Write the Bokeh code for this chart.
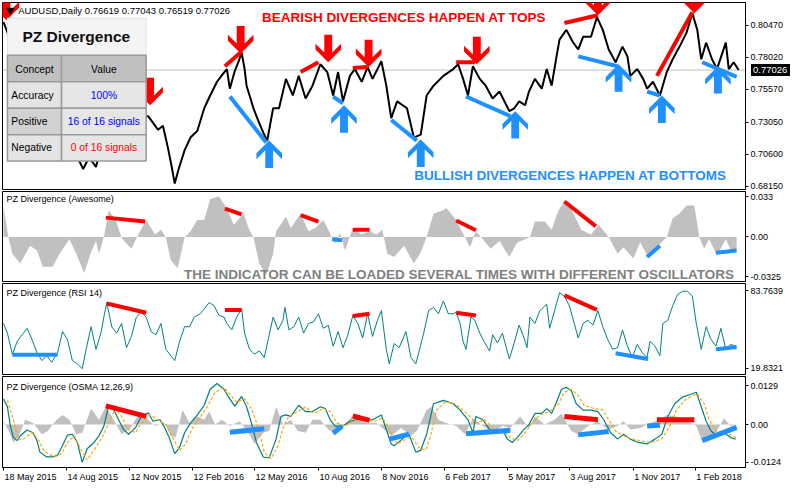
from bokeh.plotting import figure
from bokeh.layouts import column
from bokeh.models import Range1d, LinearAxis, FixedTicker, Span, Div
from bokeh.core.properties import value
from bokeh.embed import file_html
from bokeh.resources import INLINE

# ---------------- data ----------------
date_labels = ["18 May 2015", "14 Aug 2015", "12 Nov 2015", "12 Feb 2016", "12 May 2016",
               "10 Aug 2016", "8 Nov 2016", "6 Feb 2017", "5 May 2017", "3 Aug 2017",
               "1 Nov 2017", "1 Feb 2018"]
date_bars = [3, 67, 131, 195, 258, 323, 387, 451, 515, 578, 643, 706]

price_bars = [3, 8, 15, 22, 30, 38, 46, 54, 62, 70, 78, 84, 90, 97, 104, 110, 118, 126, 132, 140,
              146, 150, 155, 160, 165, 170, 174, 177, 181, 187, 193, 200, 207, 213, 220, 226, 230, 233, 238, 242,
              245, 248, 250, 254, 257, 262, 267, 271, 277, 283, 290, 297, 303, 310, 317, 325, 332, 338, 343, 348,
              355, 360, 367, 373, 378, 387, 392, 397, 403, 413, 420, 427, 433, 440, 450, 460, 465, 470, 475, 480,
              487, 493, 500, 507, 517, 522, 527, 533, 537, 543, 550, 555, 560, 565, 568, 575, 582, 587, 592, 600,
              606, 612, 618, 625, 632, 637, 640, 647, 653, 657, 663, 670, 677, 683, 690, 697, 703, 708, 712, 717,
              723, 728, 737, 740, 745, 750]
price_close = [0.8069, 0.7972, 0.7822, 0.7710, 0.7598, 0.7485, 0.7373, 0.7298, 0.7223, 0.7111,
               0.7036, 0.6946, 0.7036, 0.6961, 0.7186, 0.7350, 0.7261, 0.7111, 0.7036, 0.7261,
               0.7350, 0.7350, 0.7298, 0.7246, 0.7276, 0.7111, 0.6961, 0.6834, 0.6946, 0.7088,
               0.7186, 0.7238, 0.7410, 0.7508, 0.7613, 0.7673, 0.7710, 0.7560, 0.7695, 0.7770,
               0.7837, 0.7710, 0.7583, 0.7485, 0.7410, 0.7313, 0.7223, 0.7163, 0.7410, 0.7410,
               0.7635, 0.7508, 0.7658, 0.7485, 0.7583, 0.7747, 0.7687, 0.7508, 0.7687, 0.7463,
               0.7658, 0.7710, 0.7613, 0.7725, 0.7635, 0.7770, 0.7583, 0.7335, 0.7463, 0.7410,
               0.7186, 0.7208, 0.7508, 0.7583, 0.7658, 0.7710, 0.7747, 0.7635, 0.7508, 0.7732,
               0.7635, 0.7583, 0.7485, 0.7538, 0.7388, 0.7410, 0.7463, 0.7433, 0.7538, 0.7635,
               0.7560, 0.7710, 0.7583, 0.7807, 0.7935, 0.8010, 0.7912, 0.7860, 0.7957, 0.7957,
               0.8107, 0.8010, 0.7860, 0.7762, 0.7882, 0.7807, 0.7658, 0.7710, 0.7635, 0.7560,
               0.7613, 0.7508, 0.7687, 0.7785, 0.7882, 0.7987, 0.8137, 0.8010, 0.7785, 0.7912,
               0.7785, 0.7710, 0.7912, 0.7710, 0.7762, 0.7703]
last_price = 0.77026
price_ticks = [0.8047, 0.7802, 0.7557, 0.7305, 0.7060, 0.6815]
price_tick_labels = ["0.80470", "0.78020", "0.75570", "0.73050", "0.70600", "0.68150"]

aw_bars = [3, 8, 12, 20, 30, 37, 43, 53, 60, 70, 77, 85, 92, 97, 100, 105, 110, 117, 123, 127,
           133, 140, 148, 157, 163, 168, 173, 180, 187, 193, 200, 207, 213, 222, 230, 237, 247, 252, 257, 263,
           270, 277, 280, 290, 295, 305, 313, 320, 328, 337, 340, 345, 350, 358, 367, 375, 382, 388, 393, 400,
           410, 420, 427, 433, 440, 450, 453, 463, 472, 477, 483, 490, 498, 507, 517, 525, 533, 538, 543, 553,
           560, 567, 573, 580, 590, 600, 608, 618, 627, 633, 643, 650, 658, 667, 677, 683, 690, 697, 705, 710,
           715, 720, 728, 737, 743, 748]
aw_vals = [0.0245, 0, -0.0137, -0.0216, -0.0071, -0.011, -0.0242, -0.0242, -0.0137, -0.0018,
           -0.0137, -0.0295, -0.0124, -0.0032, -0.0137, 0, 0.0218, 0.0139, -0.0005, -0.0045,
           -0.0097, 0.002, 0.0139, 0.002, 0.006, -0.0005, -0.019, -0.0255, -0.0005, 0.0047,
           0.0139, 0.0139, 0.031, 0.0331, 0.0231, 0.01, 0.0192, 0.0074, -0.0005, -0.0216,
           -0.0308, -0.0137, 0.0047, 0.0166, 0.0074, 0.0192, 0.0047, 0.0074, 0.0139, -0.0005,
           -0.0053, 0.0034, -0.011, 0.0074, 0.002, 0.0047, 0.002, 0.006, -0.0137, -0.0163,
           -0.0071, -0.0216, -0.0124, 0, 0.0192, 0.0218, 0.0237, 0.0139, -0.0005, -0.0084,
           0.0047, -0.0018, -0.0097, -0.0032, -0.0163, -0.0045, -0.0018, 0, 0.0126, 0.0126,
           0.006, 0.0218, 0.029, 0.0231, 0.006, 0.002, 0.01, 0, -0.0137, -0.0084,
           -0.0176, -0.0045, -0.0163, -0.0084, 0, 0.0153, 0.0192, 0.0258, 0.0258, 0,
           -0.0097, -0.0018, -0.015, -0.0018, -0.0124, -0.0097]
aw_ticks = [0.033, 0.0, -0.0325]
aw_tick_labels = ["0.033", "0.00", "-0.0325"]

rsi_bars = [3, 7, 12, 17, 22, 27, 32, 37, 42, 47, 52, 58, 63, 68, 73, 78, 83, 87, 92, 97,
            102, 105, 108, 113, 118, 123, 128, 133, 138, 143, 148, 153, 158, 163, 168, 173, 177, 182, 187, 192,
            197, 203, 207, 212, 217, 222, 227, 230, 235, 240, 245, 248, 253, 258, 263, 268, 272, 277, 282, 287,
            289, 293, 298, 303, 308, 313, 318, 323, 328, 333, 338, 343, 348, 353, 358, 363, 368, 373, 378, 383,
            387, 392, 395, 400, 405, 412, 417, 422, 425, 430, 435, 440, 445, 450, 455, 460, 463, 467, 470, 473,
            478, 482, 487, 492, 497, 500, 505, 510, 517, 522, 527, 532, 535, 538, 543, 548, 555, 558, 563, 568,
            573, 578, 583, 587, 592, 597, 602, 607, 612, 617, 622, 627, 632, 637, 642, 647, 652, 657, 660, 665,
            670, 673, 678, 683, 688, 693, 698, 703, 707, 712, 717, 722, 727, 732, 737, 742, 747]
rsi_vals = [56.6, 48.6, 31.3, 41.9, 47.3, 52.6, 43.3, 32.6, 26.0, 30.0,
            24.6, 32.6, 49.9, 43.3, 26.0, 23.3, 19.3, 35.3, 53.9, 35.3,
            48.6, 61.9, 73.9, 53.9, 48.6, 56.6, 36.6, 45.9, 61.9, 65.9,
            61.9, 49.9, 47.3, 56.6, 35.3, 30.0, 26.0, 41.9, 53.9, 53.9,
            61.9, 64.6, 68.6, 73.9, 71.2, 63.2, 61.9, 56.6, 51.3, 61.9,
            68.6, 48.6, 35.3, 31.3, 33.9, 28.6, 43.3, 61.9, 51.3, 59.2,
            69.9, 51.3, 53.9, 61.9, 48.6, 56.6, 57.9, 64.6, 52.6, 55.2,
            37.9, 49.9, 36.6, 47.3, 63.2, 56.6, 44.6, 64.6, 45.9, 59.2,
            67.2, 35.3, 23.3, 40.0, 36.6, 49.9, 28.6, 23.3, 32.6, 48.6,
            67.2, 69.9, 64.6, 75.2, 64.6, 64.6, 65.9, 56.6, 41.9, 35.3,
            61.9, 59.2, 48.6, 40.6, 33.9, 47.3, 40.6, 48.6, 27.3, 40.6,
            55.2, 44.6, 36.6, 61.9, 56.6, 67.2, 72.6, 52.6, 67.2, 81.9,
            79.2, 71.2, 56.6, 44.6, 56.6, 59.2, 55.2, 67.2, 53.9, 43.3,
            35.3, 36.6, 51.3, 37.9, 28.6, 39.3, 32.6, 28.6, 41.9, 37.9,
            30.0, 56.6, 59.2, 71.2, 80.6, 83.2, 83.2, 79.2, 56.6, 35.3,
            53.9, 43.3, 37.9, 52.6, 35.3, 39.3, 37.9]
rsi_ticks = [83.7639, 19.8321]
rsi_tick_labels = ["83.7639", "19.8321"]

osma_main_bars = [3, 7, 10, 13, 17, 20, 27, 33, 37, 40, 47, 53, 58, 63, 68, 73, 78, 83, 88, 95,
                  100, 105, 110, 115, 120, 125, 130, 137, 143, 150, 155, 162, 167, 172, 177, 182, 187, 193, 200, 207,
                  213, 220, 227, 233, 238, 245, 250, 255, 260, 267, 273, 280, 285, 290, 295, 303, 310, 317, 325, 330,
                  335, 340, 348, 355, 362, 370, 378, 387, 392, 397, 400, 410, 415, 422, 427, 433, 440, 450, 460, 467,
                  475, 480, 483, 490, 497, 503, 510, 515, 520, 525, 532, 537, 543, 550, 555, 560, 565, 570, 575, 580,
                  585, 592, 600, 607, 613, 620, 627, 633, 640, 648, 657, 665, 672, 678, 685, 693, 702, 707, 712, 717,
                  722, 728, 735, 742, 747]
osma_main = [0.0085, 0.0059, -0.0005, -0.0043, -0.0053, -0.0037, -0.0018, -0.0027, -0.0053, -0.0091,
             -0.0107, -0.0107, -0.0101, -0.0069, -0.0035, -0.0032, -0.0059, -0.0125, -0.008, -0.0059,
             -0.0037, -0.0005, 0.0064, 0.005, 0.0016, -0.0016, -0.0032, -0.0011, 0.0027, 0.0039,
             0.0011, 0.0016, -0.0011, -0.0048, -0.0096, -0.0075, -0.0027, 0.0005, 0.0032, 0.0064,
             0.0117, 0.0136, 0.0117, 0.0085, 0.0061, 0.0093, 0.0059, 0.0005, -0.0059, -0.0107,
             -0.011, -0.0048, 0.0027, 0.0032, 0.0027, 0.0064, 0.0043, 0.0043, 0.0059, 0.0053,
             0.0016, -0.0005, -0.0005, 0.0011, 0.0016, 0.0016, 0.0016, 0.0032, -0.0016, -0.0064,
             -0.007, -0.0043, -0.0032, -0.0091, -0.0085, -0.0032, 0.0069, 0.008, 0.0069, 0.0048,
             0.0016, -0.0027, 0.0027, 0.0016, -0.0016, -0.0027, -0.0016, -0.0048, -0.0059, -0.0043,
             -0.0016, 0.0, 0.0037, 0.0037, 0.0053, 0.0037, 0.0075, 0.0117, 0.0123, 0.0112,
             0.0069, 0.0048, 0.0048, 0.0043, 0.0016, -0.0027, -0.0048, -0.0032, -0.0048, -0.0059,
             -0.0064, -0.0048, -0.0032, 0.0027, 0.0069, 0.0091, 0.0101, 0.0107, 0.0059, 0.0011,
             -0.0021, -0.0037, -0.0027, -0.0043, -0.0048]
osma_signal_bars = [7, 13, 18, 23, 32, 38, 45, 55, 62, 68, 75, 82, 88, 97, 103, 110, 117, 123, 130, 137,
                    143, 152, 160, 168, 175, 182, 188, 195, 202, 210, 218, 227, 233, 240, 248, 255, 262, 268, 275, 282,
                    287, 293, 302, 310, 318, 328, 335, 342, 350, 358, 368, 380, 388, 395, 400, 403, 412, 418, 425, 432,
                    437, 443, 452, 462, 468, 477, 483, 492, 500, 510, 518, 525, 532, 540, 548, 558, 567, 573, 580, 587,
                    593, 603, 612, 618, 625, 633, 642, 650, 660, 667, 673, 680, 687, 695, 703, 708, 715, 720, 727, 733,
                    740, 748]
osma_signal = [0.008, 0.0016, -0.0048, -0.0048, -0.0027, -0.0048, -0.0091, -0.0107, -0.0096, -0.0059,
               -0.0037, -0.0085, -0.0117, -0.0075, -0.0043, 0.0005, 0.0053, 0.0027, -0.0016, -0.0027,
               0.0005, 0.0032, 0.0016, 0.0, -0.0043, -0.0085, -0.0064, -0.0011, 0.0021, 0.0059,
               0.0107, 0.0123, 0.0101, 0.0075, 0.0085, 0.0053, -0.0011, -0.0091, -0.0112, -0.0069,
               -0.0011, 0.0027, 0.0043, 0.0059, 0.0037, 0.0053, 0.0043, 0.0005, -0.0005, 0.0011,
               0.0018, 0.0011, 0.0021, -0.0011, -0.0048, -0.0064, -0.0048, -0.0043, -0.0075, -0.0085,
               -0.0037, 0.0048, 0.0075, 0.0069, 0.0053, 0.0027, 0.0005, 0.0016, -0.0011, -0.0021,
               -0.0043, -0.0053, -0.0032, 0.0005, 0.0032, 0.0043, 0.0069, 0.0107, 0.0117, 0.0096,
               0.0064, 0.0053, 0.0048, 0.0016, -0.0021, -0.0037, -0.0048, -0.0053, -0.0059, -0.0053,
               -0.0043, -0.0005, 0.0048, 0.008, 0.0096, 0.0101, 0.0069, 0.0016, -0.0021, -0.0027,
               -0.0032, -0.0043]
osma_hist_bars = [3, 10, 13, 18, 25, 33, 42, 48, 57, 63, 70, 77, 83, 92, 100, 107, 115, 123, 132, 140,
                  148, 157, 167, 173, 178, 185, 192, 200, 207, 212, 218, 225, 233, 243, 253, 258, 267, 273, 280, 287,
                  295, 302, 310, 317, 325, 333, 340, 348, 357, 365, 373, 382, 390, 397, 407, 417, 423, 433, 438, 445,
                  453, 463, 472, 480, 490, 500, 510, 518, 528, 537, 543, 553, 563, 570, 580, 587, 597, 607, 617, 627,
                  633, 640, 650, 660, 670, 677, 687, 697, 707, 713, 720, 728, 735, 742, 748]
osma_hist = [0.0011, -0.0032, -0.0059, -0.0043, 0.0016, 0.0005, -0.0032, -0.0021, 0.0016, 0.0032,
             0.0016, -0.0032, -0.0027, 0.0053, 0.0016, 0.0059, 0.0016, -0.0032, -0.0011, 0.0032,
             0.0021, -0.0005, 0.0005, -0.0037, -0.0043, 0.0048, 0.0005, 0.0027, 0.0016, 0.0043,
             0.0, 0.0016, -0.0005, 0.0011, -0.0032, -0.0064, -0.0027, -0.0021, 0.0059, 0.0,
             0.0016, -0.0021, -0.0027, 0.0016, 0.0016, -0.0016, -0.0027, -0.0005, 0.0027, 0.0016,
             0.0005, 0.0005, -0.0016, -0.0037, -0.0011, -0.0037, -0.0021, 0.0048, 0.0059, 0.0016,
             0.0005, -0.0005, -0.0032, 0.0021, -0.0005, -0.0027, -0.0005, -0.0011, 0.0027, -0.0011,
             0.0027, 0.0, 0.0016, 0.0037, -0.0021, -0.0032, -0.0005, 0.0011, -0.0016, -0.0005,
             0.0011, -0.0016, -0.0011, 0.0005, 0.0016, 0.0032, 0.0027, 0.0011, -0.0005, -0.0053,
             -0.0048, -0.0021, 0.0021, -0.0005, 0.0]
osma_ticks = [0.0129, 0.0, -0.0124]
osma_tick_labels = ["0.0129", "0.00", "-0.0124"]

# divergence signals (bar index, value)
bear_arrow_bars = [6, 152, 244, 333, 374, 484, 607, 705]
bear_arrow_prices = [0.8084, 0.7433, 0.7830, 0.7762, 0.7725, 0.7747, 0.8122, 0.8137]
bull_arrow_bars = [273, 349, 427, 523, 628, 672, 729]
bull_arrow_prices = [0.7163, 0.7433, 0.7171, 0.7388, 0.7747, 0.7508, 0.7732]

main_bear_x0 = [228, 305, 358, 463, 573, 667]
main_bear_y0 = [0.7732, 0.7687, 0.7718, 0.7762, 0.8062, 0.7658]
main_bear_x1 = [245, 323, 373, 482, 607, 703]
main_bear_y1 = [0.7845, 0.7762, 0.7725, 0.7762, 0.8122, 0.8144]
main_bull_x0 = [233, 338, 397, 473, 587, 657, 713]
main_bull_y0 = [0.7500, 0.7500, 0.7320, 0.7500, 0.7807, 0.7538, 0.7762]
main_bull_x1 = [270, 348, 423, 518, 627, 670, 748]
main_bull_y1 = [0.7148, 0.7448, 0.7163, 0.7350, 0.7732, 0.7508, 0.7650]

aw_bear_x0 = [107, 228, 305, 358, 463, 573]
aw_bear_y0 = [0.0158, 0.0231, 0.0179, 0.006, 0.0134, 0.029]
aw_bear_x1 = [147, 245, 323, 375, 483, 605]
aw_bear_y1 = [0.0126, 0.0184, 0.0126, 0.006, 0.0055, 0.0087]
aw_bull_x0 = [337, 657, 727]
aw_bull_y0 = [-0.0018, -0.0163, -0.0129]
aw_bull_x1 = [347, 670, 748]
aw_bull_y1 = [-0.0026, -0.0071, -0.011]

rsi_bear_x0 = [108, 228, 358, 463, 573]
rsi_bear_y0 = [73.1, 67.8, 62.7, 65.4, 79.8]
rsi_bear_x1 = [148, 245, 375, 483, 606]
rsi_bear_y1 = [65.4, 67.8, 64.6, 63.2, 67.8]
rsi_bull_x0 = [12, 625, 727]
rsi_bull_y0 = [30.8, 32.1, 35.3]
rsi_bull_x1 = [58, 658, 748]
rsi_bull_y1 = [30.8, 27.3, 37.1]

osma_bear_x0 = [107, 358, 573, 667]
osma_bear_y0 = [0.0062, 0.0029, 0.0027, 0.0016]
osma_bear_x1 = [148, 375, 607, 705]
osma_bear_y1 = [0.0027, 0.0014, 0.0016, 0.0016]
osma_bull_x0 = [233, 338, 395, 473, 587, 657, 713]
osma_bull_y0 = [-0.0025, -0.0029, -0.0048, -0.003, -0.0034, -0.0005, -0.0053]
osma_bull_x1 = [268, 347, 415, 518, 618, 670, 748]
osma_bull_y1 = [-0.0014, -0.0005, -0.0032, -0.0019, -0.0023, -0.0002, -0.0009]

table_concepts = ["Accuracy", "Positive", "Negative"]
table_values = ["100%", "16 of 16 signals", "0 of 16 signals"]

# ---------------- styling / layout ----------------
FONT = "Liberation Sans"
RED = "#ff0000"
BLUE = "#1e90ff"
TEAL = "#008080"
SILVER = "#c0c0c0"
FW = 743
XR = Range1d(2, 757)
H_MAIN, H_AW, H_RSI, H_OSMA = 187, 90, 91, 91
TOP_MAIN = 2

# reference frame (pixel rows) -> value range for each panel (used to place annotations)
PANELS = {
    "main": ((2, 193), (0.82193, 0.67887)),
    "aw": ((195, 288), (0.03713, -0.03634)),
    "rsi": ((290, 384), (89.59, 14.49)),
    "osma": ((385, 479), (0.0159, -0.01418)),
}


def ry(panel, y):
    (t, b), (vt, vb) = PANELS[panel]
    return vt + (y - t) / (b - t) * (vb - vt)


def make_fig(panel, fh, top, bottom):
    (t, b), (vt, vb) = PANELS[panel]
    f = figure(frame_width=FW, frame_height=fh, x_range=XR, y_range=Range1d(vb, vt),
               output_backend="svg", toolbar_location=None, x_axis_location=None,
               y_axis_location="right", min_border_left=2, min_border_right=0,
               min_border_top=top, min_border_bottom=bottom,
               background_fill_color="white", border_fill_color="white",
               outline_line_color="black", outline_line_width=1)
    f.grid.visible = False
    return f


def style_axis(f, ticks, labels):
    ax = f.yaxis[0]
    ax.ticker = FixedTicker(ticks=ticks, minor_ticks=[])
    ax.major_label_overrides = dict(zip(ticks, labels))
    ax.major_tick_out = 3
    ax.major_tick_in = 0
    ax.minor_tick_line_color = None
    ax.major_label_standoff = 2
    ax.major_label_text_font = FONT
    ax.major_label_text_font_size = "9px"
    ax.major_label_text_color = "black"
    ax.axis_line_color = "black"
    ax.major_tick_line_color = "black"


def txt(f, x, y, s, size, color="black", bold=False, align="left"):
    f.text(x=[x], y=[y], text=[s], text_font=value(FONT), text_font_size=f"{size}px",
           text_font_style="bold" if bold else "normal", text_color=color,
           text_align=align, text_baseline="middle")


def arrows(f, bars, prices, down, color, yscale):
    shape = [(0, 0), (13, 13), (13, 19), (4, 10), (4, 28), (-4, 28), (-4, 10), (-13, 19), (-13, 13)]
    sgn = 1 if down else -1
    xs, ys = [], []
    for b, p in zip(bars, prices):
        xs.append([b + dx for dx, dy in shape])
        ys.append([p + sgn * dy * yscale for dx, dy in shape])
    f.patches(xs, ys, fill_color=color, line_color=None)


# ---------------- main price panel ----------------
f1 = make_fig("main", H_MAIN, TOP_MAIN, 1)
style_axis(f1, price_ticks, price_tick_labels)
f1.add_layout(Span(location=last_price, dimension="width", line_color=SILVER, line_width=1, level="underlay"))
f1.line(price_bars, price_close, line_color="black", line_width=2)
f1.segment(main_bear_x0, main_bear_y0, main_bear_x1, main_bear_y1, line_color=RED, line_width=4)
f1.segment(main_bull_x0, main_bull_y0, main_bull_x1, main_bull_y1, line_color=BLUE, line_width=4)
pscale = (0.82193 - 0.67887) / 191.0
arrows(f1, bear_arrow_bars, bear_arrow_prices, True, RED, pscale)
arrows(f1, bull_arrow_bars, bull_arrow_prices, False, BLUE, pscale)

txt(f1, 410, ry("main", 17), "BEARISH DIVERGENCES HAPPEN AT TOPS", 13.5, RED, True, "center")
txt(f1, 579, ry("main", 179), "BULLISH DIVERGENCES HAPPEN AT BOTTOMS", 13.5, BLUE, True, "center")

# info table
rows_y = [56, 83, 110, 137, 164]
f1.quad(left=[7], right=[148], top=[ry("main", 18)], bottom=[ry("main", 56)],
        fill_color="#f4f4f4", line_color="#e0e0e0", line_width=1)
cell_l, cell_r, cell_t, cell_b, cell_c = [], [], [], [], []
left_fills = ["#c0c0c0", "#e4e4e4", "#d2d2d2", "#e4e4e4"]
right_fills = ["#c0c0c0", "#e6e6e6", "#e6e6e6", "#e6e6e6"]
for i in range(4):
    for (l, r, c) in ((7, 62, left_fills[i]), (62, 148, right_fills[i])):
        cell_l.append(l)
        cell_r.append(r)
        cell_t.append(ry("main", rows_y[i]))
        cell_b.append(ry("main", rows_y[i + 1]))
        cell_c.append(c)
f1.quad(left=cell_l, right=cell_r, top=cell_t, bottom=cell_b, fill_color=cell_c,
        line_color="#9a9a9a", line_width=1.5)
txt(f1, 77, ry("main", 37), "PZ Divergence", 15.5, "#111111", True, "center")
txt(f1, 34.5, ry("main", 70), "Concept", 10.3, "black", False, "center")
txt(f1, 105, ry("main", 70), "Value", 10.3, "black", False, "center")
val_colors = ["#0000ff", "#0000ff", "#ff0000"]
for i in range(3):
    yy = ry("main", (rows_y[i + 1] + rows_y[i + 2]) / 2)
    txt(f1, 11, yy, table_concepts[i], 10.3, "black", False, "left")
    txt(f1, 105, yy, table_values[i], 10.3, val_colors[i], False, "center")

# header
f1.scatter([10], [ry("main", 10)], marker="inverted_triangle", size=7, color="black")
txt(f1, 18, ry("main", 10), "AUDUSD,Daily  0.76619 0.77043 0.76519 0.77026", 9.5)

# ---------------- Awesome panel ----------------
f2 = make_fig("aw", H_AW, 1, 1)
style_axis(f2, aw_ticks, aw_tick_labels)
f2.varea(x=aw_bars, y1=[0] * len(aw_bars), y2=aw_vals, fill_color=SILVER)
f2.segment(aw_bear_x0, aw_bear_y0, aw_bear_x1, aw_bear_y1, line_color=RED, line_width=4)
f2.segment(aw_bull_x0, aw_bull_y0, aw_bull_x1, aw_bull_y1, line_color=BLUE, line_width=4)
txt(f2, 6, ry("aw", 203), "PZ Divergence (Awesome)", 9)
txt(f2, 466, ry("aw", 281), "THE INDICATOR CAN BE LOADED SEVERAL TIMES WITH DIFFERENT OSCILLATORS",
    13.5, "#808080", True, "center")

# ---------------- RSI panel ----------------
f3 = make_fig("rsi", H_RSI, 1, 1)
style_axis(f3, rsi_ticks, rsi_tick_labels)
f3.line(rsi_bars, rsi_vals, line_color=TEAL, line_width=1)
f3.segment(rsi_bear_x0, rsi_bear_y0, rsi_bear_x1, rsi_bear_y1, line_color=RED, line_width=4)
f3.segment(rsi_bull_x0, rsi_bull_y0, rsi_bull_x1, rsi_bull_y1, line_color=BLUE, line_width=4)
txt(f3, 6, ry("rsi", 300), "PZ Divergence (RSI 14)", 9)

# ---------------- OSMA panel ----------------
f4 = make_fig("osma", H_OSMA, 1, 0)
style_axis(f4, osma_ticks, osma_tick_labels)
f4.varea(x=osma_hist_bars, y1=[0] * len(osma_hist_bars), y2=osma_hist, fill_color=SILVER)
f4.line(osma_main_bars, osma_main, line_color=TEAL, line_width=1.2)
f4.line(osma_signal_bars, osma_signal, line_color="#ffa500", line_width=1.2, line_dash="3 2")
f4.segment(osma_bear_x0, osma_bear_y0, osma_bear_x1, osma_bear_y1, line_color=RED, line_width=5)
f4.segment(osma_bull_x0, osma_bull_y0, osma_bull_x1, osma_bull_y1, line_color=BLUE, line_width=5)
txt(f4, 6, ry("osma", 396), "PZ Divergence (OSMA 12,26,9)", 9)

# date axis: tick marks at the dates, labels starting at each tick
CW = {" ": .278, "M": .833, "A": .667, "N": .722, "F": .611, "a": .556, "y": .5, "u": .556,
      "g": .556, "o": .556, "v": .5, "e": .556, "b": .556}
bars_per_px = (757 - 2) / FW
label_centers = []
for b, s in zip(date_bars, date_labels):
    w = sum(CW.get(ch, .556) for ch in s) * 9 * bars_per_px
    label_centers.append(b + w / 2 + 1)
axA = LinearAxis(ticker=FixedTicker(ticks=date_bars, minor_ticks=[]), major_tick_out=3, major_tick_in=0,
                 major_label_text_font_size="0px", major_label_standoff=0,
                 major_label_overrides={b: "" for b in date_bars},
                 axis_line_color="black", minor_tick_line_color=None)
f4.add_layout(axA, "below")
axB = LinearAxis(ticker=FixedTicker(ticks=label_centers, minor_ticks=[]), major_tick_out=0, major_tick_in=0,
                 major_tick_line_color=None, minor_tick_line_color=None, axis_line_color=None,
                 major_label_overrides=dict(zip(label_centers, date_labels)),
                 major_label_text_font=FONT, major_label_text_font_size="9px",
                 major_label_text_color="black", major_label_standoff=1)
f4.add_layout(axB, "below")

# current-price marker on the price scale (sits over the axis area, outside the frame)
(pt, pb), (pvt, pvb) = PANELS["main"]
price_sy = TOP_MAIN + (last_price - pvt) / (pvb - pvt) * H_MAIN
price_box = Div(text="0.77026", styles={
    "position": "absolute", "left": f"{2 + FW + 1}px", "top": f"{price_sy - 11:.1f}px",
    "background-color": "black", "color": "white", "font-family": FONT,
    "font-size": "9.5px", "line-height": "12px", "padding": "0px 3px 0px 2px", "z-index": "10"})

layout = column(f1, f2, f3, f4, price_box, spacing=0)
open("out.html", "w").write(file_html(layout, INLINE))
